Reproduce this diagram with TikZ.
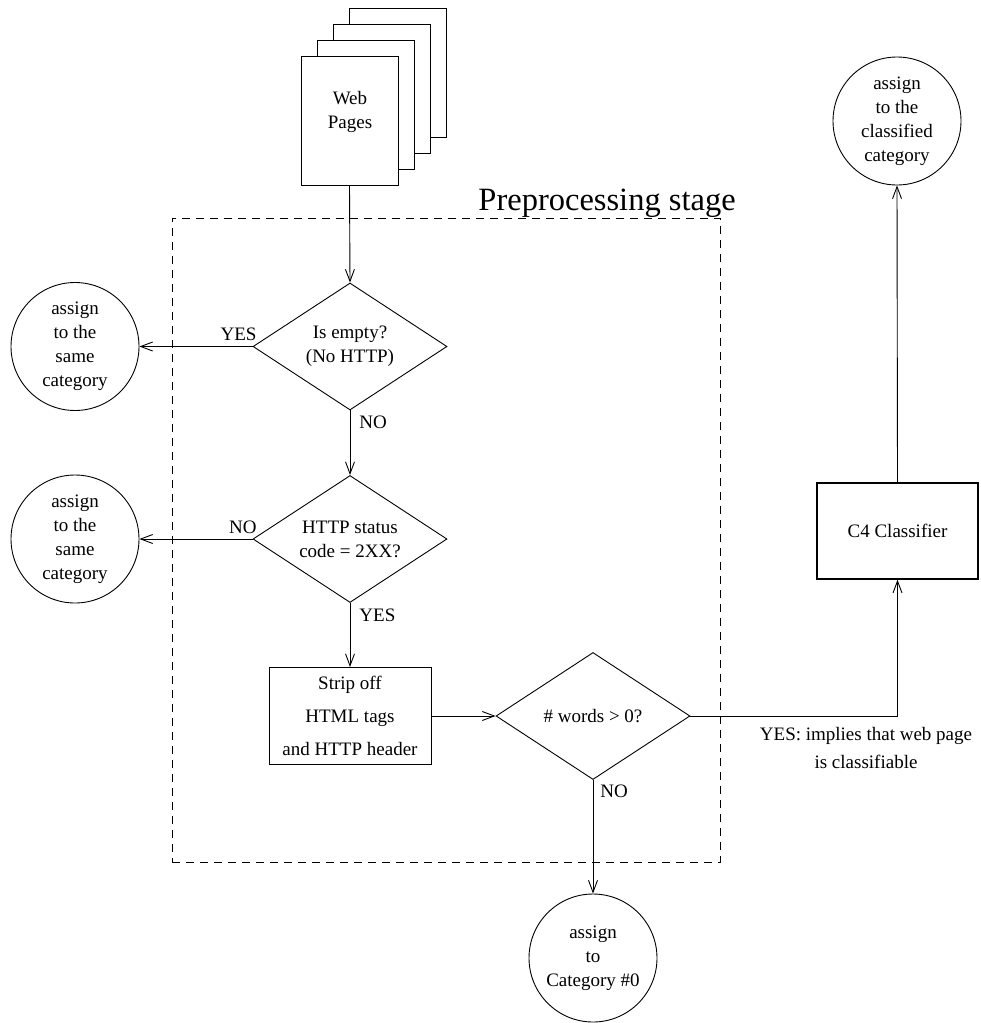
\documentclass[tikz,border=0pt]{standalone}
\usepackage{fontspec}
\setmainfont{Liberation Serif}
\usetikzlibrary{shapes.geometric,arrows.meta}
\begin{document}
\begin{tikzpicture}[x=1pt,y=-1pt,
  every node/.style={font=\fontsize{19}{24}\selectfont},
  line width=0.9pt,
  page/.style={draw, fill=white, minimum width=97pt, minimum height=129pt, inner sep=0pt},
  terminal/.style={draw, circle, minimum size=128pt, inner sep=0pt, align=center},
  decision/.style={draw, diamond, minimum width=194pt, minimum height=127pt, inner sep=0pt, aspect=1.53, align=center},
  process/.style={draw, rectangle, inner sep=0pt, align=center},
  stagebox/.style={draw, dash pattern=on 8pt off 6pt, minimum width=548pt, minimum height=644pt, inner sep=0pt},
  flow/.style={-{Straight Barb[length=12pt,width=9pt]}},
  tag/.style={inner sep=0pt}
]
\useasboundingbox (0,0) rectangle (981,1023);

% stack of web pages
\node[page] (p4) at (397.5,72.5) {};
\node[page] (p3) at (381.5,88.5) {};
\node[page] (p2) at (365.5,104.5) {};
\node[page] (web) at (349.5,120.5) {};
\node[align=center, inner sep=0pt] (webtxt) at (350,112) {Web\\Pages};

% preprocessing frame
\node[stagebox] (stage) at (446,540) {};
\node[tag, anchor=base west, font=\fontsize{32.5}{36}\selectfont] (stagelabel) at (478,210) {Preprocessing stage};

% decisions and steps
\node[decision] (d1) at (350,346.5) {Is empty?\\(No HTTP)};
\node[decision] (d2) at (350,539) {HTTP status\\code = 2XX?};
\node[process, minimum width=162pt, minimum height=97pt, font=\fontsize{19}{33}\selectfont] (strip) at (350,716) {Strip off\\HTML tags\\and HTTP header};
\node[decision] (d3) at (593,716) {\# words > 0?};
\node[process, minimum width=161pt, minimum height=96pt, line width=1.4pt] (c4) at (897.5,531) {C4 Classifier};

% outcomes
\node[terminal] (same1) at (75,346.5) {assign\\to the\\same\\category};
\node[terminal] (same2) at (75,539) {assign\\to the\\same\\category};
\node[terminal] (classified) at (897,121) {assign\\to the\\classified\\category};
\node[terminal] (cat0) at (593,958) {assign\\to\\Category \#0};

% connectors
\draw[flow] (web.south) -- (d1.north);
\draw[flow] (d1.west) -- (same1.east);
\draw[flow] (d1.south) -- (d2.north);
\draw[flow] (d2.west) -- (same2.east);
\draw[flow] (d2.south) -- (strip.north);
\draw[flow] (strip.east) -- (d3.west);
\draw[flow] (d3.south) -- (cat0.north);
\draw[flow] (d3.east) -| (c4.south);
\draw[flow] (c4.north) -- (classified.south);

% branch labels
\node[tag, anchor=base east] (yes1) at (257,340) {YES};
\node[tag, anchor=base west] (no1) at (359,428) {NO};
\node[tag, anchor=base east] (no2) at (257,533) {NO};
\node[tag, anchor=base west] (yes2) at (359,621) {YES};
\node[tag, anchor=base west] (no3) at (600,797) {NO};
\node[tag, align=center, font=\fontsize{19}{28}\selectfont] (yes3) at (866,748) {YES: implies that web page\\is classifiable};
\end{tikzpicture}
\end{document}
